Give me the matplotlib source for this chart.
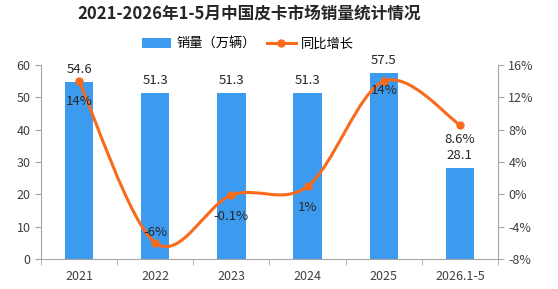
import matplotlib.pyplot as plt
import numpy as np
from matplotlib.path import Path
from matplotlib.patches import PathPatch

plt.rcParams['font.family'] = ['Noto Sans CJK SC', 'DejaVu Sans']

years = ['2021', '2022', '2023', '2024', '2025', '2026.1-5']
sales = [54.6, 51.3, 51.3, 51.3, 57.5, 28.1]
growth = [14, -6, -0.1, 1, 14, 8.6]
growth_labels = ['14%', '-6%', '-0.1%', '1%', '14%', '8.6%']

bar_c = '#3d9bef'
line_c = '#f96a1b'
grey = '#a6a6a6'

fig = plt.figure(figsize=(5.58, 2.89), dpi=100)
ax = fig.add_axes([41/558, 1 - 259/289, 457/558, 194/289])
x = np.arange(len(years))
bars = ax.bar(x, sales, width=0.37, color=bar_c, label='销量（万辆）', zorder=2)
ax.set_xlim(-0.5, len(years) - 0.5)
ax.set_ylim(0, 60)
ax.set_yticks(range(0, 61, 10))
ax.set_xticks(x)
ax.set_xticklabels(years)
ax.set_xticks(np.arange(-0.5, len(years), 1), minor=True)
ax.tick_params(axis='x', which='major', length=0, pad=8)
ax.tick_params(axis='x', which='minor', length=4, color=grey, direction='out')
ax.tick_params(axis='y', length=4, color=grey, labelsize=9, labelcolor='#404040')
ax.tick_params(axis='x', labelsize=9, labelcolor='#404040')
for s in ['top', 'right']:
    ax.spines[s].set_visible(False)
for s in ['left', 'bottom']:
    ax.spines[s].set_color(grey)

for xi, v in zip(x, sales):
    ax.text(xi, v + 2.0, f'{v}', ha='center', va='bottom', fontsize=9.5, color='#262626')

ax2 = ax.twinx()
ax2.set_ylim(-8, 16)
ax2.set_yticks(range(-8, 17, 4))
ax2.set_yticklabels([f'{t}%' for t in range(-8, 17, 4)])
ax2.tick_params(axis='y', length=4, color=grey, labelsize=9, labelcolor='#404040')
for s in ['top', 'left', 'bottom']:
    ax2.spines[s].set_visible(False)
ax2.spines['right'].set_color(grey)

# smoothed line (Catmull-Rom as cubic Bezier segments)
pts = np.column_stack([x, growth]).astype(float)
verts = [tuple(pts[0])]
codes = [Path.MOVETO]
n = len(pts)
for i in range(n - 1):
    p0 = pts[i - 1] if i > 0 else pts[i]
    p1 = pts[i]
    p2 = pts[i + 1]
    p3 = pts[i + 2] if i + 2 < n else pts[i + 1]
    c1 = p1 + (p2 - p0) / 6
    c2 = p2 - (p3 - p1) / 6
    verts += [tuple(c1), tuple(c2), tuple(p2)]
    codes += [Path.CURVE4] * 3
ax2.add_patch(PathPatch(Path(verts, codes), fill=False, edgecolor=line_c, lw=2.2, zorder=3))
ax2.plot(x, growth, 'o', color=line_c, ms=5, zorder=4)
line_handle = plt.Line2D([], [], color=line_c, lw=2.2, marker='o', ms=5)

offsets = [-2.5, 1.3, -2.6, -2.6, -1.2, -1.8]
for xi, g, lab, off in zip(x, growth, growth_labels, offsets):
    ax2.text(xi, g + off, lab, ha='center', va='center', fontsize=9.5, color='#262626', zorder=5)

fig.text(249/558, 1 - 14/289, '2021-2026年1-5月中国皮卡市场销量统计情况', ha='center', va='center',
         fontsize=12, fontweight='bold', color='#262626')
fig.legend([bars, line_handle], ['销量（万辆）', '同比增长'], loc='center', bbox_to_anchor=(248/558, 1 - 44/289),
           ncol=2, frameon=False, fontsize=9.5, handlelength=2.2, columnspacing=0.8, handletextpad=0.4)

fig.savefig('out.png', dpi=100)
